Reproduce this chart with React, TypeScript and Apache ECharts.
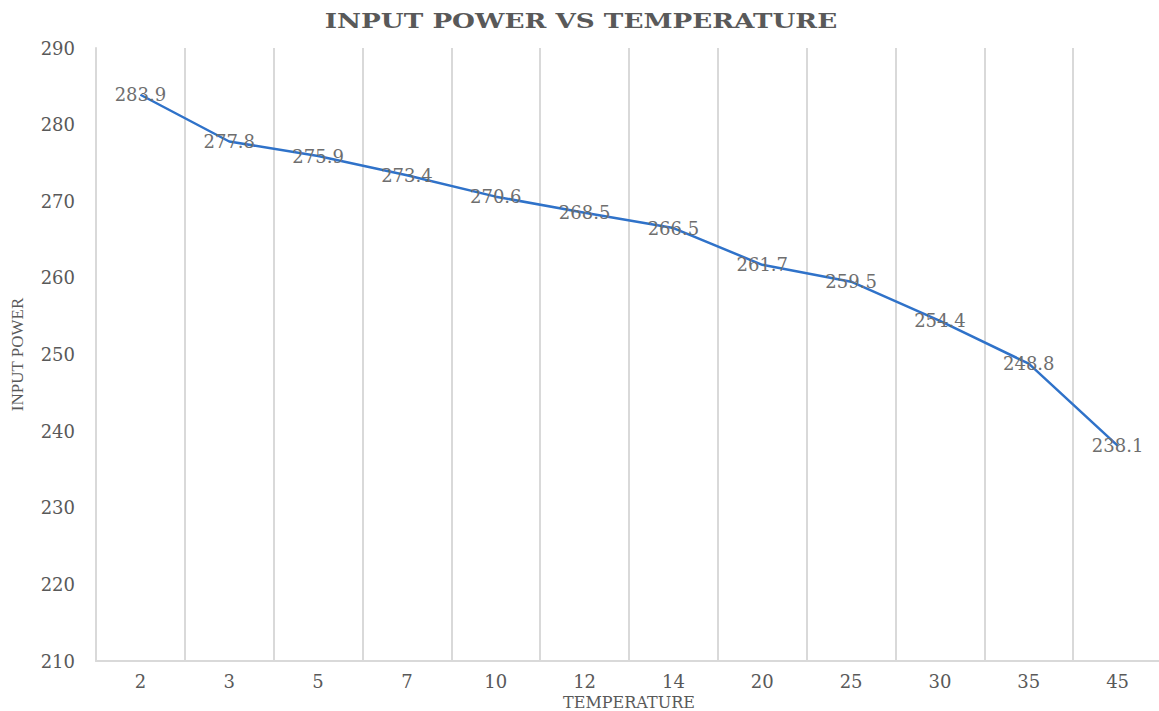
import React, { useEffect, useRef } from "react";
import * as echarts from "echarts";

const categories = ["2", "3", "5", "7", "10", "12", "14", "20", "25", "30", "35", "45"];
const inputPower = [283.9, 277.8, 275.9, 273.4, 270.6, 268.5, 266.5, 261.7, 259.5, 254.4, 248.8, 238.1];
const yMin = 210;
const yMax = 290;
const yInterval = 10;
const titleText = "INPUT POWER VS TEMPERATURE";

export default function App() {
  const ref = useRef<HTMLDivElement>(null);
  useEffect(() => {
    if (!ref.current) return;
    const chart = echarts.init(ref.current, undefined, { renderer: "svg" });
    const grey = "#595959";
    chart.setOption({
      animation: false,
      backgroundColor: "#ffffff",
      graphic: [
        {
          type: "text",
          x: 581,
          y: 21,
          scaleX: 1.25,
          style: {
            text: titleText,
            textAlign: "center",
            textVerticalAlign: "middle",
            fontFamily: "DejaVu Serif",
            fontWeight: "bold",
            fontSize: 21,
            fill: grey,
          },
        },
      ],
      grid: { left: 96, top: 48, width: 1066, bottom: 50, outerBoundsMode: "none", containLabel: false },
      xAxis: {
        type: "category",
        data: categories,
        boundaryGap: true,
        name: "TEMPERATURE",
        nameLocation: "middle",
        nameGap: 28,
        nameTextStyle: { fontFamily: "DejaVu Serif", fontSize: 16, lineHeight: 16, color: grey },
        axisLine: { show: true, lineStyle: { color: "#d9d9d9", width: 2 } },
        axisTick: { show: false },
        axisLabel: { fontFamily: "DejaVu Serif", fontSize: 18, color: grey, margin: 11 },
        splitLine: { show: true, lineStyle: { color: "#d9d9d9", width: 2 } },
      },
      yAxis: {
        type: "value",
        min: yMin,
        max: yMax,
        interval: yInterval,
        name: "INPUT POWER",
        nameLocation: "middle",
        nameGap: 70,
        nameTextStyle: { fontFamily: "Liberation Serif", fontSize: 17, color: grey },
        axisLine: { show: true, lineStyle: { color: "#d9d9d9", width: 2 } },
        axisTick: { show: false },
        axisLabel: { fontFamily: "DejaVu Serif", fontSize: 18, color: grey, margin: 21 },
        splitLine: { show: false },
      },
      series: [
        {
          type: "line",
          data: inputPower,
          symbol: "circle",
          symbolSize: 1,
          showSymbol: true,
          itemStyle: { color: "rgba(0,0,0,0)", borderWidth: 0 },
          lineStyle: { color: "#2f72c9", width: 2.5 },
          label: {
            show: true,
            position: "inside",
            fontFamily: "DejaVu Serif",
            fontSize: 18,
            color: "#6e6e6e",
          },
        },
      ],
    });
    return () => chart.dispose();
  }, []);
  return (
    <div
      ref={ref}
      style={{ position: "absolute", left: 0, top: 0, width: 1159, height: 711 }}
    />
  );
}
